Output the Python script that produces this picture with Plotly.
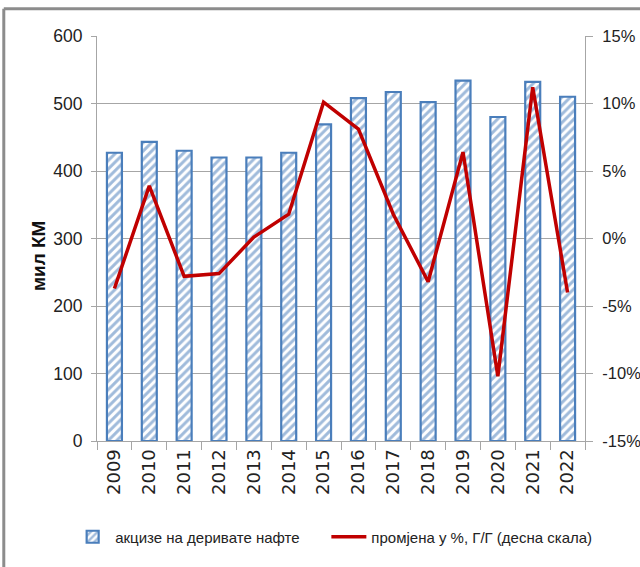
"""Excise on oil derivatives (bars) with y/y change (line, right scale)."""
import plotly.graph_objects as go

years = ["2009", "2010", "2011", "2012", "2013", "2014", "2015",
         "2016", "2017", "2018", "2019", "2020", "2021", "2022"]
excise = [427, 443, 430, 420, 420, 427, 469, 508, 517, 502, 534, 480, 532, 510]
change_pct = [-3.7, 3.9, -2.8, -2.6, 0.1, 1.8, 10.1, 8.1, 1.8, -3.2, 6.4, -10.2, 11.2, -4.0]

left_ticks = [0, 100, 200, 300, 400, 500, 600]
right_ticks = [-15, -10, -5, 0, 5, 10, 15]

NARROW = "Liberation Sans Narrow, Arial Narrow, Liberation Sans, sans-serif"
GRID = "#a6a6a6"
BLUE = "#4a7ebb"
RED = "#c00000"

fig = go.Figure()

fig.add_trace(go.Bar(
    x=years,
    y=excise,
    name="акцизе на деривате нафте",
    marker=dict(
        color="white",
        line=dict(color=BLUE, width=2.2),
        pattern=dict(shape="/", fgcolor="#4277b8", bgcolor="white", size=6, solidity=0.5),
    ),
    yaxis="y",
    legend="legend",
))

fig.add_trace(go.Scatter(
    x=years,
    y=change_pct,
    name="промјена у %, Г/Г (десна скала)",
    mode="lines",
    line=dict(color=RED, width=3.5),
    yaxis="y2",
    legend="legend2",
))

legend_style = dict(
    orientation="h",
    xanchor="left",
    y=-0.237,
    yanchor="middle",
    font=dict(family=NARROW, size=15, color="#222"),
    itemwidth=35,
    bgcolor="rgba(0,0,0,0)",
)

fig.update_layout(
    width=640,
    height=567,
    margin=dict(l=97, r=55, t=36, b=126),
    paper_bgcolor="white",
    plot_bgcolor="white",
    bargap=0.57,
    showlegend=True,
    legend=dict(x=-0.055, **legend_style),
    legend2=dict(x=0.47, **legend_style),
    xaxis=dict(
        type="category",
        tickangle=-90,
        tickfont=dict(family="DejaVu Sans, Verdana, sans-serif", size=18, color="#222"),
        showline=True,
        linecolor=GRID,
        linewidth=1,
        ticks="outside",
        tickson="boundaries",
        ticklen=8,
        tickcolor=GRID,
        showgrid=False,
        automargin=False,
    ),
    yaxis=dict(
        range=[0, 600],
        tickvals=left_ticks,
        tickfont=dict(family=NARROW, size=17.5, color="#222"),
        ticklabelstandoff=5,
        showgrid=True,
        gridcolor=GRID,
        gridwidth=1,
        showline=True,
        linecolor=GRID,
        ticks="outside",
        ticklen=5,
        tickcolor=GRID,
        zeroline=False,
        automargin=False,
    ),
    yaxis2=dict(
        range=[-15, 15],
        tickvals=right_ticks,
        ticktext=[f"{v}%" for v in right_ticks],
        overlaying="y",
        side="right",
        tickfont=dict(family=NARROW, size=16.5, color="#222"),
        ticklabelstandoff=6,
        showgrid=False,
        showline=True,
        linecolor=GRID,
        ticks="outside",
        ticklen=7,
        tickcolor=GRID,
        zeroline=False,
        automargin=False,
    ),
    annotations=[dict(
        text="<b>мил КМ</b>",
        textangle=-90,
        x=-0.121,
        y=0.459,
        xref="paper",
        yref="paper",
        xanchor="center",
        yanchor="middle",
        showarrow=False,
        font=dict(family="Liberation Sans, Arial, sans-serif", size=19, color="#111"),
    )],
    shapes=[
        # outer frame, only top and left edges show in the picture
        dict(type="line", xref="paper", yref="paper",
             x0=-0.191, x1=1.12, y0=1.067, y1=1.067,
             line=dict(color="#8c8c8c", width=3)),
        dict(type="line", xref="paper", yref="paper",
             x0=-0.191, x1=-0.191, y0=1.067, y1=-0.32,
             line=dict(color="#8c8c8c", width=3)),
    ],
)

# drop the default body margin so the 640x567 figure fills the window exactly
fig.write_html(
    "out.html",
    config={"displayModeBar": False},
    post_script="document.body.style.margin='0';document.body.style.overflow='hidden';",
)
